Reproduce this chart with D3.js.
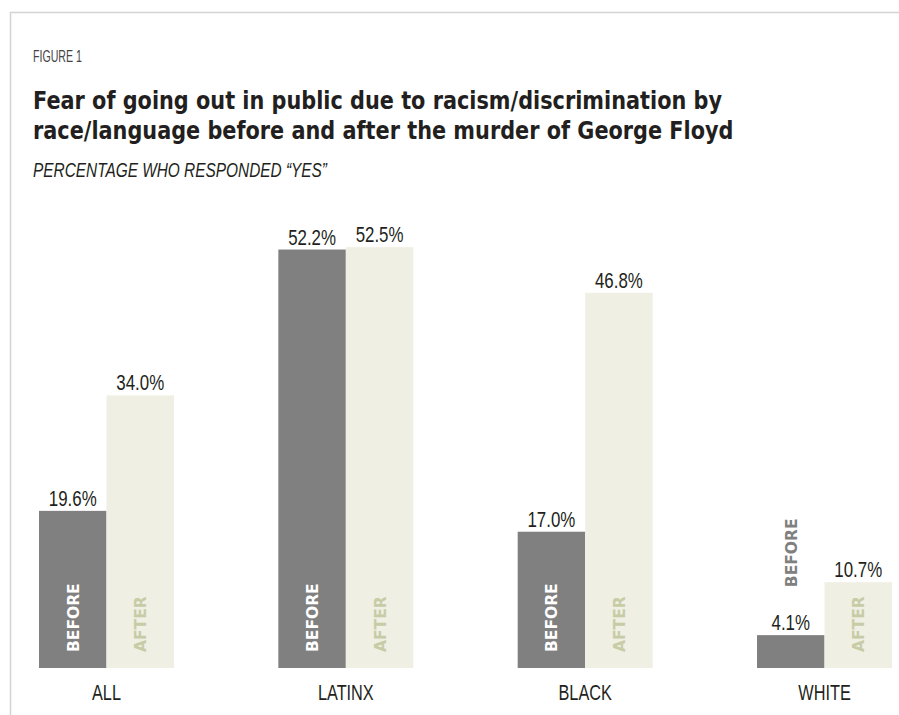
<!DOCTYPE html>
<html>
<head>
<meta charset="utf-8">
<script src="https://cdn.jsdelivr.net/npm/d3@7"></script>
<style>
  body { margin: 0; background: #fff; }
</style>
</head>
<body>
<div id="chart"></div>
<script>
// data
var groups = ["ALL", "LATINX", "BLACK", "WHITE"];
var periods = ["BEFORE", "AFTER"];
var before = [19.6, 52.2, 17.0, 4.1];
var after = [34.0, 52.5, 46.8, 10.7];

var W = 899, H = 715;
var plain = "'Liberation Sans', Arial, sans-serif";
var heavy = "'DejaVu Sans', sans-serif";

var svg = d3.select("#chart").append("svg")
  .attr("width", W)
  .attr("height", H)
  .style("font-family", plain);

// squeeze text horizontally to mimic a condensed face
function squeeze(sel, k) {
  sel.each(function() {
    var len = this.getComputedTextLength();
    d3.select(this).attr("textLength", len * k).attr("lengthAdjust", "spacingAndGlyphs");
  });
}
function fitTo(sel, w) {
  sel.attr("textLength", w).attr("lengthAdjust", "spacingAndGlyphs");
}

// frame
svg.append("path")
  .attr("d", "M10.5," + H + "V12.5H" + W)
  .attr("fill", "none")
  .attr("stroke", "#d3d3d3")
  .attr("stroke-width", 1.5);

// header
svg.append("text")
  .attr("x", 33).attr("y", 62)
  .attr("font-size", 16.5)
  .attr("fill", "#444")
  .text("FIGURE 1")
  .call(fitTo, 49);

var t1 = svg.append("text")
  .attr("x", 33).attr("y", 109)
  .attr("font-size", 24.5)
  .style("font-family", heavy)
  .attr("font-weight", "bold")
  .attr("fill", "#231f20")
  .text("Fear of going out in public due to racism/discrimination by");
var k = 689 / t1.node().getComputedTextLength();
t1.call(squeeze, k);
svg.append("text")
  .attr("x", 33).attr("y", 139)
  .attr("font-size", 24.5)
  .style("font-family", heavy)
  .attr("font-weight", "bold")
  .attr("fill", "#231f20")
  .text("race/language before and after the murder of George Floyd")
  .call(squeeze, k);

svg.append("text")
  .attr("x", 33).attr("y", 177)
  .attr("font-size", 21)
  .attr("font-style", "italic")
  .attr("fill", "#231f20")
  .text("PERCENTAGE WHO RESPONDED \u201CYES\u201D")
  .call(fitTo, 294);

// scales
var x0 = d3.scaleBand()
  .domain(groups)
  .range([39, 892])
  .paddingInner(0.436)
  .paddingOuter(0);
var x1 = d3.scaleBand()
  .domain(periods)
  .range([0, x0.bandwidth()]);
var y = d3.scaleLinear()
  .domain([0, 60])
  .range([668, 187]);

var color = { BEFORE: "#808080", AFTER: "#efefe3" };
var tagColor = { BEFORE: "#ffffff", AFTER: "#c8cca6" };

var rows = [];
groups.forEach(function(g, i) {
  rows.push({ group: g, period: "BEFORE", value: before[i] });
  rows.push({ group: g, period: "AFTER", value: after[i] });
});

var chart = svg.append("g");

chart.selectAll("rect")
  .data(rows)
  .enter()
  .append("rect")
    .attr("x", function(d) { return x0(d.group) + x1(d.period); })
    .attr("y", function(d) { return y(d.value); })
    .attr("width", x1.bandwidth())
    .attr("height", function(d) { return y(0) - y(d.value); })
    .attr("fill", function(d) { return color[d.period]; });

// value labels
chart.selectAll(".val")
  .data(rows)
  .enter()
  .append("text")
    .attr("class", "val")
    .attr("x", function(d) { return x0(d.group) + x1(d.period) + x1.bandwidth() / 2; })
    .attr("y", function(d) { return y(d.value) - 5; })
    .attr("text-anchor", "middle")
    .attr("font-size", 22.5)
    .attr("fill", "#231f20")
    .text(function(d) { return d.value.toFixed(1) + "%"; })
    .call(squeeze, 0.75);

// BEFORE / AFTER tags, rotated; above the bar when the bar is too short
var tags = chart.selectAll(".tag")
  .data(rows)
  .enter()
  .append("text")
    .attr("class", "tag")
    .attr("font-size", 15.5)
    .style("font-family", heavy)
    .attr("font-weight", "bold")
    .text(function(d) { return d.period; });

tags.each(function(d) {
  var len = this.getComputedTextLength();
  var cx = x0(d.group) + x1(d.period) + x1.bandwidth() / 2 + 6;
  var inside = (y(0) - y(d.value)) > len + 30;
  var by = inside ? y(0) - 16 : y(d.value) - 48;
  d3.select(this)
    .attr("transform", "translate(" + cx + "," + by + ") rotate(-90)")
    .attr("fill", inside ? tagColor[d.period] : color[d.period]);
});

// category axis
var xAxis = d3.axisBottom(x0).tickSize(0).tickPadding(0);
var ax = svg.append("g")
  .attr("transform", "translate(0,684)")
  .call(xAxis);
ax.select(".domain").remove();
ax.selectAll("text")
  .attr("font-size", 22)
  .attr("fill", "#231f20")
  .style("font-family", plain)
  .call(squeeze, 0.74);
</script>
</body>
</html>
